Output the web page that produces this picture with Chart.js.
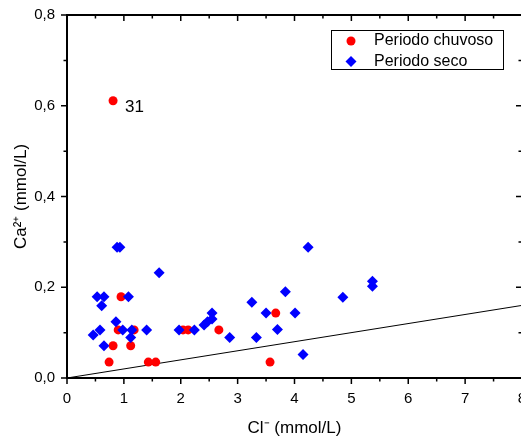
<!DOCTYPE html>
<html>
<head>
<meta charset="utf-8">
<script src="https://cdn.jsdelivr.net/npm/chart.js@4.4.1/dist/chart.umd.min.js"></script>
<style>
    html, body {
        margin: 0;
        padding: 0;
        background: #fff;
        overflow: hidden;
    }

    #wrap {
        width: 521px;
        height: 441px;
        overflow: hidden;
    }
</style>
</head>
<body>

<div id="wrap">
    <canvas id="ionChart" width="560" height="441"></canvas>
</div>

<script>
// ===============================
// DATA
// ===============================

const chuvosoCl = [0.81, 0.95, 0.90, 1.18, 0.81, 1.12, 0.74, 1.43, 1.56, 2.04, 2.13, 2.67, 3.67, 3.57];
const chuvosoCa = [0.611, 0.179, 0.106, 0.106, 0.071, 0.071, 0.035, 0.035, 0.035, 0.106, 0.106, 0.106, 0.143, 0.035];

const secoCl = [0.88, 0.93, 1.62, 0.53, 0.65, 1.08, 0.61, 0.86, 0.58, 0.46, 0.98, 1.14, 1.40, 1.12, 0.65,
                1.97, 2.24, 2.41, 2.47, 2.55, 2.55, 2.86, 3.25, 3.84, 3.50, 4.01, 3.70, 3.33, 4.15, 4.85,
                5.37, 5.37, 4.24];
const secoCa = [0.288, 0.288, 0.232, 0.179, 0.179, 0.179, 0.159, 0.124, 0.106, 0.095, 0.106, 0.106, 0.106, 0.089, 0.071,
                0.106, 0.106, 0.117, 0.124, 0.143, 0.130, 0.089, 0.167, 0.190, 0.143, 0.143, 0.107, 0.089, 0.052, 0.178,
                0.213, 0.202, 0.288];

// reference line Ca = 0.02 * Cl
const lineCl = [0, 8];
const lineCa = [0, 0.16];

const xTicks = [0, 1, 2, 3, 4, 5, 6, 7, 8];
const yTicks = [0, 0.2, 0.4, 0.6, 0.8];

const legendLabels = ["Periodo chuvoso", "Periodo seco"];
const pointLabel = "31";
const pointLabelIndex = 0;

const FONT = "'Liberation Sans', Arial, sans-serif";

function toPoints(xs, ys) {
    return xs.map((x, i) => ({ x: x, y: ys[i] }));
}

function midpoints(list) {
    const out = [];
    for (let i = 0; i < list.length - 1; i++) {
        out.push((list[i] + list[i + 1]) / 2);
    }
    return out;
}

// ===============================
// FRAME, TICKS, LEGEND
// ===============================

const framePlugin = {

    id: "frame",

    afterDraw(chart) {

        const ctx = chart.ctx;
        const area = chart.chartArea;
        const xs = chart.scales.x;
        const ys = chart.scales.y;

        ctx.save();

        ctx.strokeStyle = "#000";
        ctx.lineWidth = 2;

        ctx.strokeRect(area.left, area.top, area.right - area.left, area.bottom - area.top);

        ctx.lineWidth = 1.5;

        function tickX(v, len) {
            const px = xs.getPixelForValue(v);
            ctx.beginPath();
            ctx.moveTo(px, area.bottom);
            ctx.lineTo(px, area.bottom + len);
            ctx.moveTo(px, area.top);
            ctx.lineTo(px, area.top + len);
            ctx.stroke();
        }

        function tickY(v, len) {
            const py = ys.getPixelForValue(v);
            ctx.beginPath();
            ctx.moveTo(area.left, py);
            ctx.lineTo(area.left - len, py);
            ctx.moveTo(area.right, py);
            ctx.lineTo(area.right - len, py);
            ctx.stroke();
        }

        xTicks.forEach(v => tickX(v, 6));
        midpoints(xTicks).forEach(v => tickX(v, 3.5));

        yTicks.forEach(v => tickY(v, 6));
        midpoints(yTicks).forEach(v => tickY(v, 3.5));

        // label next to sample 31
        const px = xs.getPixelForValue(chuvosoCl[pointLabelIndex]);
        const py = ys.getPixelForValue(chuvosoCa[pointLabelIndex]);

        ctx.fillStyle = "#000";
        ctx.font = "17px " + FONT;
        ctx.textAlign = "left";
        ctx.textBaseline = "middle";
        ctx.fillText(pointLabel, px + 12, py + 7);

        // legend box
        ctx.lineWidth = 1;
        ctx.strokeRect(331.5, 30.5, 172, 39);

        ctx.fillStyle = "#ff0000";
        ctx.beginPath();
        ctx.arc(351, 41, 4.5, 0, Math.PI * 2);
        ctx.fill();

        ctx.fillStyle = "#0000ff";
        ctx.beginPath();
        ctx.moveTo(345.5, 61.5);
        ctx.lineTo(351, 56);
        ctx.lineTo(356.5, 61.5);
        ctx.lineTo(351, 67);
        ctx.closePath();
        ctx.fill();

        ctx.fillStyle = "#000";
        ctx.font = "16px " + FONT;
        ctx.fillText(legendLabels[0], 374, 41);
        ctx.fillText(legendLabels[1], 374, 61.5);

        ctx.restore();
    }
};

// ===============================
// CHART
// ===============================

new Chart(document.getElementById("ionChart"), {

    type: "scatter",

    data: {

        datasets: [
            {
                label: legendLabels[1],
                data: toPoints(secoCl, secoCa),
                pointStyle: "rectRot",
                pointRadius: 5.5,
                pointHoverRadius: 5.5,
                borderWidth: 0,
                backgroundColor: "#0000ff"
            },
            {
                label: legendLabels[0],
                data: toPoints(chuvosoCl, chuvosoCa),
                pointStyle: "circle",
                pointRadius: 4.5,
                pointHoverRadius: 4.5,
                borderWidth: 0,
                backgroundColor: "#ff0000"
            },
            {
                label: "Ca/Cl",
                data: toPoints(lineCl, lineCa),
                showLine: true,
                pointRadius: 0,
                borderColor: "#000",
                borderWidth: 1
            }
        ]
    },

    options: {

        responsive: false,
        animation: false,
        events: [],

        layout: {
            padding: { top: 15, right: 38, left: 0, bottom: 0 }
        },

        plugins: {
            legend: { display: false },
            tooltip: { enabled: false }
        },

        scales: {

            x: {
                type: "linear",
                min: 0,
                max: 8,
                afterBuildTicks: scale => {
                    scale.ticks = xTicks.map(v => ({ value: v }));
                },
                afterFit: scale => {
                    scale.height = 63;
                    scale.paddingLeft = 0;
                    scale.paddingRight = 0;
                },
                grid: { display: false, drawTicks: false },
                border: { display: false },
                ticks: {
                    color: "#000",
                    padding: 12,
                    maxRotation: 0,
                    font: { family: FONT, size: 15 },
                    callback: v => String(v)
                },
                title: {
                    display: true,
                    text: "Cl\u207B (mmol/L)",
                    color: "#000",
                    font: { family: FONT, size: 17 },
                    padding: { top: 0, bottom: 2 }
                }
            },

            y: {
                type: "linear",
                min: 0,
                max: 0.8,
                afterBuildTicks: scale => {
                    scale.ticks = yTicks.map(v => ({ value: v }));
                },
                afterFit: scale => {
                    scale.width = 67;
                    scale.paddingTop = 0;
                    scale.paddingBottom = 0;
                },
                grid: { display: false, drawTicks: false },
                border: { display: false },
                ticks: {
                    color: "#000",
                    padding: 12,
                    font: { family: FONT, size: 15 },
                    callback: v => Number(v).toFixed(1).replace(".", ",")
                },
                title: {
                    display: true,
                    text: "Ca\u00B2\u207A (mmol/L)",
                    color: "#000",
                    font: { family: FONT, size: 17 },
                    padding: { top: 11, bottom: 0 }
                }
            }
        }
    },

    plugins: [framePlugin]
});
</script>

</body>
</html>
